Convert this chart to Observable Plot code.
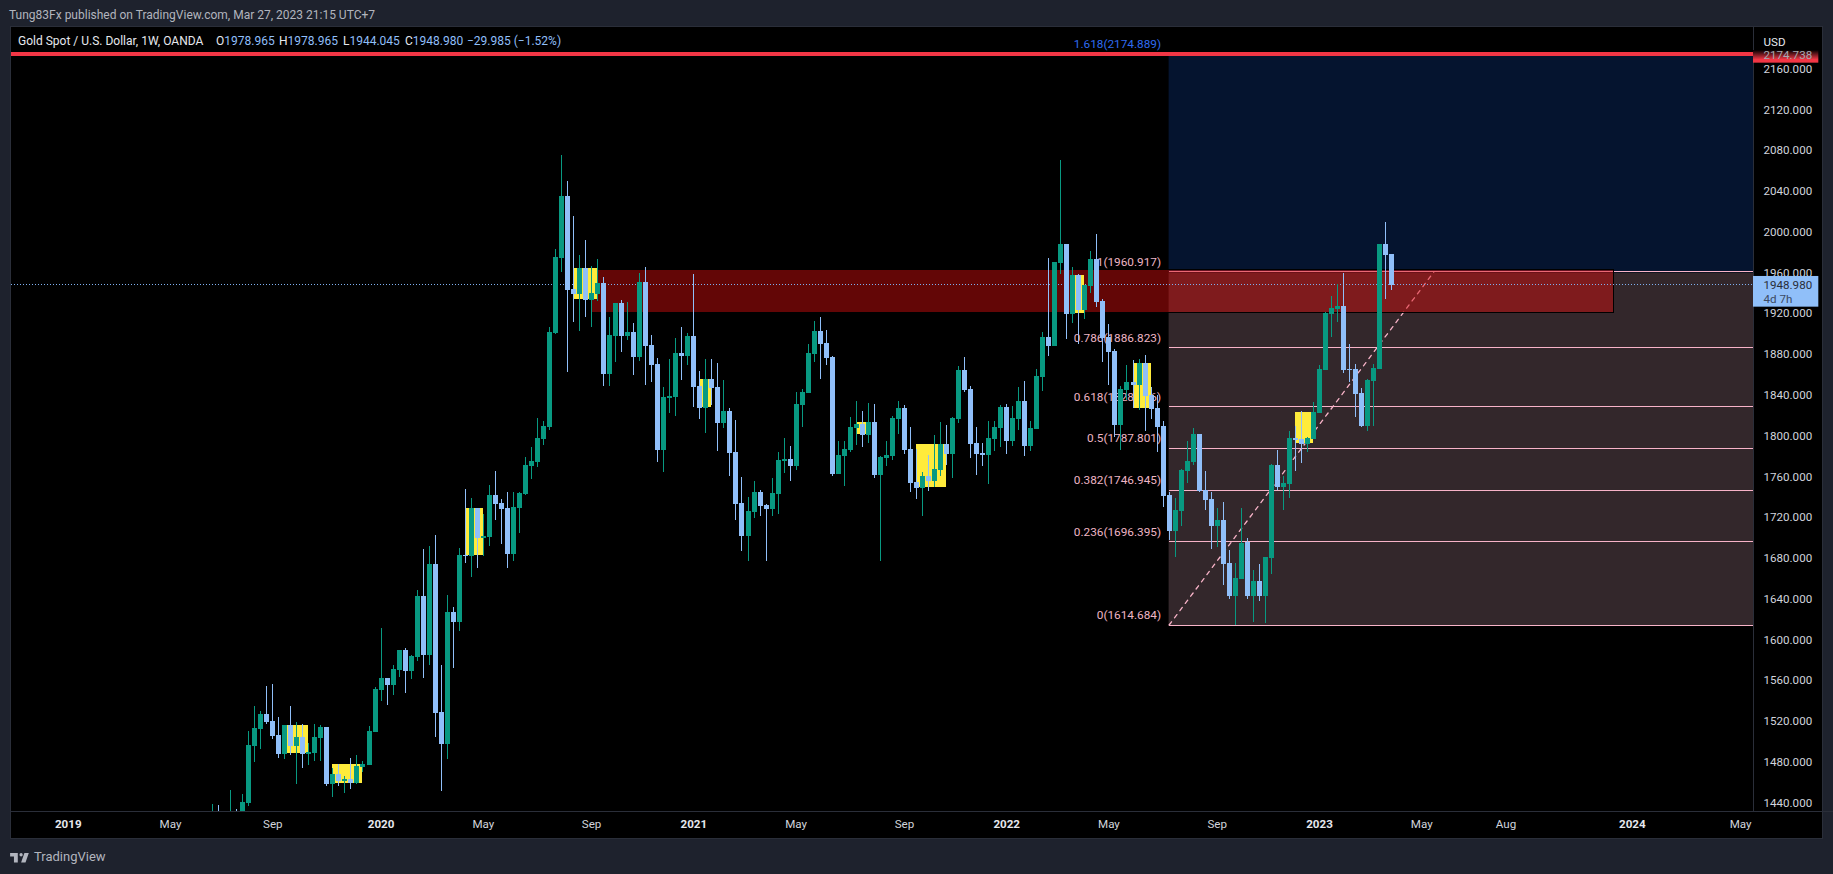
<!DOCTYPE html>
<html><head><meta charset="utf-8">
<script src="https://cdn.jsdelivr.net/npm/d3@7"></script>
<script src="https://cdn.jsdelivr.net/npm/@observablehq/plot@0.6"></script>
<style>
html,body{margin:0;padding:0;background:#1e222d;width:1833px;height:874px;overflow:hidden;font-family:Roboto,sans-serif}
#head{position:absolute;left:9px;top:8px;font-size:12px;line-height:14px;color:#b2b5be;white-space:nowrap}
#chart{position:absolute;left:11px;top:27px;width:1811px;height:811px;background:#000;box-shadow:0 0 0 1px #2a2e39}
#chart svg{display:block}
#legend{position:absolute;left:18px;top:34px;font-size:12px;line-height:14px;color:#e6e8ee;white-space:nowrap}
#legend span{position:absolute;top:0;white-space:nowrap}
#legend b{font-weight:400;color:#90bff9}
#foot{position:absolute;left:10px;top:850px;display:flex;align-items:center;color:#b2b5be;font-size:13px;line-height:14px}
#foot svg{margin-right:4px}
</style></head>
<body>
<div id="head">Tung83Fx published on TradingView.com, Mar 27, 2023 21:15 UTC+7</div>
<div id="chart"></div>
<div id="legend">
<span style="left:0">Gold&nbsp;Spot&nbsp;/&nbsp;U.S.&nbsp;Dollar,&nbsp;1W,&nbsp;OANDA</span>
<span style="left:198px">O<b>1978.965</b></span>
<span style="left:261px">H<b>1978.965</b></span>
<span style="left:325px">L<b>1944.045</b></span>
<span style="left:387px">C<b>1948.980</b></span>
<span style="left:449px"><b>−29.985 (−1.52%)</b></span>
</div>
<div id="foot"><svg width="20" height="11" viewBox="0 0 36 20" fill="#b2b5be"><path d="M14 2H0v6h7v11h7V2zm14 17h-8l6-17h8l-6 17zm-8-11a3 3 0 1 0 0-6 3 3 0 0 0 0 6z"/></svg>TradingView</div>
<script>
const firstWeek = new Date("2019-06-24T00:00:00Z");
const opens = [1405,1420,1412,1400,1425,1415,
1441,1496.5,1513.2,1528,1521,1507.3,1488.7,1517.1,1496.5,1505.4,
1488.7,1489.7,1504.4,1515.2,1459.3,1469.1,1462.2,1464.2,1460.2,1476,
1477.9,1510.3,1551.5,1563.2,1556.4,1571,1590.7,1570,1583.8,1643.7,
1585.8,1675,1529.9,1498.5,1628,1618.2,1683.8,1682.8,1729.9,1700.5,
1701.5,1742.7,1734.8,1729.9,1684.8,1729.9,1743.7,1771.1,1775,1797.6,
1809.4,1901.6,1975.1,2035.9,1944.7,1939.8,1965.3,1933.9,1939.8,1950.6,
1861.4,1898.6,1931,1898.6,1902.6,1878,1951.6,1889.8,1871.2,1786.8,
1837.8,1838.8,1882,1879,1898.6,1849.6,1828,1856.5,1848.6,1813.3,
1825.1,1784.9,1734.8,1702.5,1726,1745.6,1732.9,1729,1743.7,1776,
1778,1771.1,1830.9,1842.7,1881,1903.5,1891.8,1878,1763.3,1781,
1786.8,1808.4,1812.3,1801.5,1814.3,1762.3,1779,1781,1817.2,1828,
1787.8,1755.4,1749.6,1761.3,1756.4,1767.2,1792.7,1782.9,1817.2,1865.3,
1846.7,1793.7,1783.9,1781.9,1797.6,1808.4,1829,1795.7,1817.2,1834.9,
1790.8,1807.4,1858.4,1897.6,1888.8,1970.2,1988.9,1920.2,1958.5,1924.1,
1947.7,1974.1,1932.9,1897.6,1883.9,1811.3,1845.7,1853.5,1850.6,1872.2,
1840.8,1828,1810.4,1742.7,1707.4,1727,1766.2,1775,1802.5,1747.6,
1738.8,1712.3,1718.2,1676,1643.6,1660.3,1696.6,1643.6,1658.4,1643.6,
1680.9,1772.1,1750.5,1753.5,1798.6,1797.6,1792.7,1797.6,1823.1,1865.3,
1920.2,1925.1,1928,1866.3,1866.3,1842.7,1810.4,1854.5,1866.3,1988.9,1978.965];
const highs = [1439.7,1438.7,1432,1453.4,1434.8,1449.5,
1511.3,1535.8,1530.9,1555.4,1557.3,1525,1517.1,1535.8,1520.1,1518,
1499.5,1518,1517.1,1515.2,1475,1478.9,1467.1,1484.8,1487.7,1481.8,
1516.2,1554.4,1612.3,1563.2,1576,1590.7,1592.7,1585.8,1649.5,1689.7,
1692.7,1703.5,1576,1644.6,1632.9,1690.7,1748.6,1739.7,1729.9,1724,
1752.5,1766.2,1738.8,1745.6,1745.6,1745.6,1779.9,1789.8,1818.2,1815.3,
1907.4,1983.9,2076.1,2050.7,2016.3,1978,1992.8,1967.3,1974.1,1956.5,
1917.3,1931,1933.9,1932,1911.4,1960.4,1966.3,1899.6,1877,1848.6,
1876,1896.7,1907.4,1901.6,1959.4,1864.3,1876,1876,1872.1,1855.5,
1828,1816.2,1760.3,1740.7,1756.4,1747.6,1733.9,1759.4,1784.9,1798.6,
1790.7,1843.7,1846.6,1890.8,1913.3,1917.3,1904.5,1879,1795.6,1795.6,
1819.2,1834.9,1825.1,1832.9,1831.9,1781,1795.6,1820.2,1834.9,1831,
1809.4,1787.8,1765.2,1781.9,1801.5,1814.3,1811.3,1819.2,1869.2,1878,
1849.6,1809.4,1793.7,1815.3,1815,1830.9,1831.9,1830,1848.6,1854.5,
1815.3,1866.3,1902.6,1975.1,1971.2,2071.2,1988.9,1966.3,1959.4,1948.6,
1982,1998.7,1934.9,1910.4,1885.9,1849.6,1870.2,1875,1876,1880,
1848.6,1840.8,1815.3,1745.6,1739.7,1768.2,1795.6,1808.4,1802.5,1766.2,
1745.6,1730,1735.8,1688.8,1676,1730,1700.5,1669.1,1675,1681.9,
1773.1,1786.8,1761.3,1805.5,1810.4,1825,1800,1833.9,1870.2,1922.2,
1937.9,1949.6,1960.7,1890.8,1871.2,1847.6,1856.5,1871.2,1988.9,2010.4,1978.965];
const lows = [1400,1390,1405,1380,1400,1400,
1438,1481.2,1493.6,1518,1503.4,1484.8,1483.8,1487.7,1459.3,1475,
1477.9,1481.8,1481.8,1457.3,1446.5,1457.3,1450.4,1454.4,1459.3,1471,
1477.9,1510.3,1540.7,1536.8,1546.6,1564.2,1548.5,1562.2,1579.9,1563.2,
1576,1505.4,1452.4,1483.8,1573,1609.3,1676,1662.3,1671.1,1682.8,
1692.7,1718.2,1694.6,1671.1,1677.9,1705.4,1742.7,1758.4,1770.2,1791.7,
1806.4,1900.6,1961.4,1863.3,1912.4,1903.5,1917.3,1907.5,1933,1849.6,
1849.6,1873.1,1882.9,1894.7,1860.4,1874.1,1850.6,1853.5,1775,1765.2,
1823.1,1820.2,1855.5,1870.2,1829,1817.2,1803.5,1830.9,1785.8,1808.4,
1761.3,1718.2,1687.8,1678,1720.1,1722.1,1678,1722.1,1724,1764.3,
1756.4,1767.2,1809.4,1842.7,1873.1,1856.5,1870.2,1761.3,1763.3,1751.5,
1784.9,1791.7,1789.8,1793.7,1759.4,1678,1771.1,1777,1802.5,1782.9,
1745.6,1738.8,1722.1,1746.6,1750.2,1761.3,1772.1,1759.4,1813.3,1843.7,
1779,1762.3,1771.1,1753.5,1785.8,1789.8,1782.9,1790.8,1806.4,1780.9,
1785.8,1807.4,1844.7,1879,1888.8,1959.4,1895.7,1911.4,1890.8,1915.3,
1940.8,1927,1873.1,1850.6,1799.6,1786.8,1835.9,1828,1826,1805.5,
1817.2,1784.9,1730.9,1698.6,1681.9,1712.3,1754.5,1772.1,1745.6,1728,
1689.7,1691.7,1654.4,1640.7,1615.2,1660.3,1640.7,1618.1,1638.7,1617.2,
1665.2,1747.6,1728,1739.7,1766.2,1774.1,1784.9,1797.6,1823.1,1865.3,
1897.6,1912.4,1862.4,1853.5,1819.2,1809.4,1805.5,1810.4,1866.3,1934.9,1944.045];
const closes = [1415,1400,1425,1425,1415,1441.6,
1497.5,1514.2,1528,1520.1,1506.3,1488.7,1517.1,1496.5,1505.4,1488.7,
1490.7,1505.4,1515.2,1459.3,1469.1,1462.2,1464.2,1460.2,1476.9,1478.9,
1511.3,1552.4,1563.2,1556.4,1572,1590.7,1570,1584.8,1643.7,1585.8,
1675,1528.9,1498.5,1628,1618.2,1683.9,1682.8,1729.9,1700.5,1702.5,
1742.7,1733.9,1729,1684.8,1730.9,1744.6,1772.1,1776,1798.6,1810.4,
1902.5,1976.1,2035.9,1943.7,1939.8,1965.3,1933.9,1940.8,1950.6,1861.4,
1899.6,1931,1898.6,1902.6,1878,1951.6,1888.8,1870.2,1786.8,1838.8,
1839.8,1882,1879,1898.6,1848.6,1828,1856.5,1847.6,1813.3,1825.1,
1783.9,1733.9,1702.5,1727,1745.6,1731.9,1729,1744.6,1777,1778,
1771.1,1831.9,1843.7,1882,1903.5,1890.8,1877,1763.3,1782,1787.8,
1809.4,1812.3,1801.5,1814.3,1762.3,1780,1782,1818.2,1828,1786.8,
1754.5,1749.6,1761.3,1756.4,1768.2,1792.7,1782.9,1818.2,1865.3,1845.7,
1792.7,1782.9,1781.9,1798.6,1809.4,1829,1795.7,1818.2,1834.9,1790.8,
1808.4,1859.4,1897.6,1888.8,1971.2,1988.9,1920.2,1958.5,1924.1,1948.6,
1974.1,1931.9,1896.7,1882.9,1811.3,1846.7,1853.5,1850.6,1872.2,1839.8,
1827,1809.4,1741.7,1707.4,1728,1767.2,1776,1802.5,1746.6,1737.8,
1712.3,1718.2,1675,1643.6,1661.3,1695.6,1643.6,1658.4,1643.6,1681.9,
1772.1,1750.5,1754.5,1798.6,1796.6,1792.7,1798.6,1824.1,1866.3,1921.2,
1926.1,1928,1865.3,1865.3,1841.8,1810.4,1855.5,1867.3,1988.9,1978.1,1948.98];

// highlighted order blocks: first and last week, upper and lower price
const blockStart = ["2019-09-16","2019-11-11","2020-04-13","2020-08-17","2021-01-11"];
const blockEnd   = ["2019-10-14","2019-12-16","2020-05-04","2020-09-14","2021-01-25"];
const blockTop   = [1517.1,1478.9,1729.9,1965.3,1856.5];
const blockBot   = [1489.7,1460.2,1683.8,1934.9,1829];
const block2Start = ["2021-07-12","2021-09-20","2022-03-21","2022-05-30","2022-12-05"];
const block2End   = ["2021-07-26","2021-10-25","2022-04-04","2022-06-20","2022-12-26"];
const block2Top   = [1814.3,1792.7,1958.5,1872.2,1824.1];
const block2Bot   = [1802.5,1750.5,1921.2,1828,1793.7];

const fibRatios = ["0","0.236","0.382","0.5","0.618","0.786","1"];
const fibPrices = [1614.684,1696.395,1746.945,1787.801,1828.656,1886.823,1960.917];
const fibExtRatio = "1.618", fibExtPrice = 2174.889;
const fibStart = "2022-07-11", fibTrendEnd = "2023-05-15";
const zonePrices = [1921.2,1964.3], zoneDates = ["2020-09-07","2023-12-11"];
const lastPrice = 1948.98, redLevel = 2174.738;

const yearTickDates = ["2019-01-07","2020-01-06","2021-01-04","2022-01-03","2023-01-02","2024-01-01"];
const yearTickLabels = ["2019","2020","2021","2022","2023","2024"];
const monthTickDates = ["2019-05-06","2019-09-02","2020-05-04","2020-09-07","2021-05-03","2021-09-06","2022-05-02","2022-09-05","2023-05-01","2023-08-07","2024-05-06"];
const monthTickLabels = ["May","Sep","May","Sep","May","Sep","May","Sep","May","Aug","May"];
const priceTicks = d3.range(1440, 2161, 40);

const D = s => new Date(s + "T00:00:00Z");
const weeks = opens.map((_, i) => d3.utcWeek.offset(firstWeek, i));
const candles = weeks.map((date, i) => ({date, o: opens[i], h: highs[i], l: lows[i], c: closes[i], up: closes[i] >= opens[i]}));
const GREEN = "#089981", BLUE = "#90bff9";
const xEnd = D("2024-05-21"), tagEnd = D("2024-08-05");
const blocks = blockStart.map((s,i)=>({a:D(s),b:D(blockEnd[i]),t:blockTop[i],m:blockBot[i]}))
  .concat(block2Start.map((s,i)=>({a:D(s),b:D(block2End[i]),t:block2Top[i],m:block2Bot[i]})));
const fibs = fibRatios.map((r,i)=>({p:fibPrices[i],label:`${r}(${fibPrices[i].toFixed(3)})`}));
const PINK = "#f8b3c8";
const tick = "#d1d4dc";

const gradient = () => {
  const s = d3.create("svg:g");
  const g = s.append("defs").append("linearGradient").attr("id","redTag").attr("x1",0).attr("x2",0).attr("y1",0).attr("y2",1);
  g.append("stop").attr("offset","0%").attr("stop-color","#000");
  g.append("stop").attr("offset","75%").attr("stop-color","#f23645");
  g.append("stop").attr("offset","100%").attr("stop-color","#f23645");
  return s.node();
};

const chart = Plot.plot({
  width: 1811, height: 811,
  marginLeft: 0, marginRight: 69, marginTop: 0, marginBottom: 27,
  style: {background: "#000", fontFamily: "Roboto, sans-serif", overflow: "visible"},
  x: {type: "utc", domain: [D("2018-11-02"), xEnd], range: [0, 1742]},
  y: {type: "linear", domain: [1432.76, 2201.68]},
  marks: [
    gradient,
    // Fibonacci backgrounds
    Plot.rect([0], {x1: D(fibStart), x2: xEnd, y1: fibPrices[0], y2: fibPrices[6], fill: "#33272b", clip: true}),
    Plot.rect([0], {x1: D(fibStart), x2: xEnd, y1: fibPrices[6], y2: fibExtPrice, fill: "#05142f", clip: true}),
    Plot.ruleY(fibs, {x1: D(fibStart), x2: xEnd, y: "p", stroke: PINK, strokeWidth: 1, dy: -1, shapeRendering: "crispEdges"}),
    Plot.line([[D(fibStart), fibPrices[0]], [D(fibTrendEnd), fibPrices[6]]], {stroke: PINK, strokeWidth: 1.3, strokeDasharray: "4 5", dy: -1}),
    Plot.text(fibs, {x: D(fibStart), y: "p", text: "label", textAnchor: "end", lineAnchor: "bottom", dx: -8, dy: -7, fill: "#eeb5c4", fontSize: 11.8}),
    Plot.text([`${fibExtRatio}(${fibExtPrice.toFixed(3)})`], {x: D(fibStart), y: fibExtPrice, text: d => d, textAnchor: "end", lineAnchor: "bottom", dx: -8, dy: -7, fill: "#2f6bf0", fontSize: 11.8}),
    // supply zone
    Plot.rect([0], {x1: D(zoneDates[0]), x2: D(zoneDates[1]), y1: zonePrices[0], y2: zonePrices[1], fill: "#dc0d0d", fillOpacity: 0.45, stroke: "#000", strokeWidth: 1, shapeRendering: "crispEdges"}),
    // thick red level and last price
    Plot.ruleY([lastPrice], {stroke: "#7fb0f0", strokeWidth: 1, strokeDasharray: "1 2", dy: -1, shapeRendering: "crispEdges"}),
    Plot.ruleY([redLevel], {stroke: "#f23645", strokeWidth: 4, dy: -1, shapeRendering: "crispEdges"}),
    // highlighted blocks
    Plot.rect(blocks, {x1: "a", x2: "b", y1: "m", y2: "t", fill: "#ffeb3b", clip: true, shapeRendering: "crispEdges"}),
    // candles
    Plot.ruleX(candles, {x: "date", y1: "l", y2: "h", stroke: d => d.up ? GREEN : BLUE, strokeWidth: 1, clip: true, shapeRendering: "crispEdges"}),
    Plot.ruleX(candles, {x: "date", y1: "o", y2: "c", stroke: d => d.up ? GREEN : BLUE, strokeWidth: 5, clip: true, shapeRendering: "crispEdges"}),
    // frame separators
    Plot.ruleX([xEnd], {stroke: "#2a2e39", strokeWidth: 1, shapeRendering: "crispEdges"}),
    Plot.ruleY([1432.76], {x1: D("2018-11-02"), x2: D("2024-08-22"), stroke: "#2a2e39", strokeWidth: 1, shapeRendering: "crispEdges"}),
    // axes
    Plot.axisY(priceTicks, {anchor: "right", tickSize: 0, tickPadding: 10, dy: -1, label: null, tickFormat: d => d.toFixed(3), fill: tick, fontSize: 11.6}),
    Plot.axisX(monthTickDates.map(D), {anchor: "bottom", tickSize: 0, tickPadding: 8, label: null, tickFormat: (d, i) => monthTickLabels[i], fill: tick, fontSize: 11.6}),
    Plot.axisX(yearTickDates.map(D), {anchor: "bottom", tickSize: 0, tickPadding: 8, label: null, tickFormat: (d, i) => yearTickLabels[i], fill: "#e6e8ee", fontSize: 11.6, fontWeight: 700}),
    Plot.text(["USD"], {x: xEnd, y: 2187.5, text: d => d, dx: 10, textAnchor: "start", fill: "#e6e8ee", fontSize: 11.6}),
    // price tags
    Plot.rect([0], {x1: xEnd, x2: tagEnd, y1: 2166.7, y2: 2179.1, fill: "url(#redTag)"}),
    Plot.text([redLevel.toFixed(3)], {x: xEnd, y: redLevel, text: d => d, dx: 10, textAnchor: "start", fill: "#a5a8b2", fontSize: 11.6}),
    Plot.rect([0], {x1: xEnd, x2: tagEnd, y1: 1927.4, y2: 1957.5, fill: "#90bff9"}),
    Plot.text([lastPrice.toFixed(3)], {x: xEnd, y: 1949.3, text: d => d, dx: 10, textAnchor: "start", fill: "#2a2e39", fontSize: 11.6}),
    Plot.text(["4d 7h"], {x: xEnd, y: 1934.9, text: d => d, dx: 10, textAnchor: "start", fill: "#3c4a63", fontSize: 11.6})
  ]
});
document.getElementById("chart").append(chart);
</script>
</body></html>
